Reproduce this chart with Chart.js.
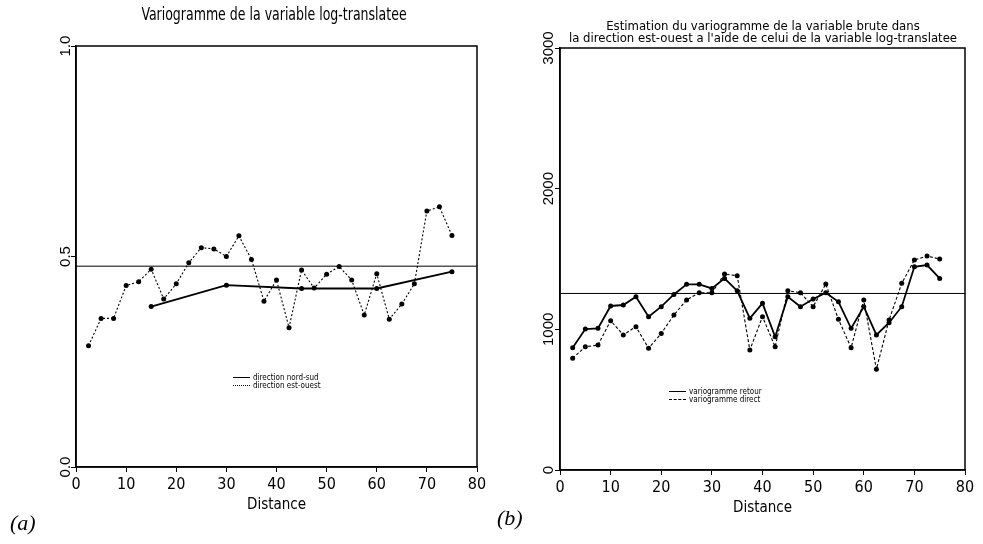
<!DOCTYPE html>
<html>
<head>
<meta charset="UTF-8">
<title>Variogrammes</title>
<script src="https://cdn.jsdelivr.net/npm/chart.js@4.4.0/dist/chart.umd.min.js"></script>
<style>
  body { margin: 0; width: 983px; height: 544px; background: #fff; position: relative; overflow: hidden;
         font-family: 'Liberation Sans Narrow', 'DejaVu Sans Condensed', 'DejaVu Sans', sans-serif;
         font-stretch: condensed; color: #000; }
  canvas { position: absolute; top: 0; }
  .txt { position: absolute; white-space: nowrap; transform: translateX(-50%); text-align: center; }
  .lettre { position: absolute; font-family: 'Liberation Serif', serif; font-style: italic; font-size: 22px; font-stretch: normal; }
  .leg { position: absolute; font-size: 8px; line-height: 8px; }
  .leg div { white-space: nowrap; }
  .trait { display: inline-block; width: 17px; vertical-align: middle; margin-right: 3px; }
</style>
</head>
<body>

<canvas id="chartA" width="520" height="544" style="left:0"></canvas>
<canvas id="chartB" width="463" height="544" style="left:520px"></canvas>

<div class="txt" style="left:274px; top:5px; font-size:17px; line-height:19px; transform:translateX(-50%) scaleX(0.82);">Variogramme de la variable log-translatee</div>
<div class="txt" style="left:763px; top:20px; font-size:13px; line-height:12px;">Estimation du variogramme de la variable brute dans<br>la direction est-ouest a l'aide de celui de la variable log-translatee</div>

<div class="leg" style="left:233px; top:374px;">
  <div><span class="trait" style="border-top:1.5px solid #000"></span>direction nord-sud</div>
  <div><span class="trait" style="border-top:1px dotted #000"></span>direction est-ouest</div>
</div>
<div class="leg" style="left:669px; top:388px;">
  <div><span class="trait" style="border-top:1.5px solid #000"></span>variogramme retour</div>
  <div><span class="trait" style="border-top:1px dashed #000"></span>variogramme direct</div>
</div>

<div class="lettre" style="left:10px; top:510px;">(a)</div>
<div class="lettre" style="left:497px; top:505px;">(b)</div>

<script>
// distances communes (pas de 2.5)
const distances = [2.5, 5, 7.5, 10, 12.5, 15, 17.5, 20, 22.5, 25, 27.5, 30, 32.5, 35, 37.5,
                   40, 42.5, 45, 47.5, 50, 52.5, 55, 57.5, 60, 62.5, 65, 67.5, 70, 72.5, 75];

// (a) variable log-translatee
const estOuest = [0.288, 0.353, 0.353, 0.431, 0.440, 0.470, 0.399, 0.435, 0.485, 0.521,
                  0.518, 0.500, 0.549, 0.493, 0.394, 0.444, 0.331, 0.468, 0.425, 0.458,
                  0.476, 0.444, 0.361, 0.459, 0.351, 0.387, 0.435, 0.608, 0.618, 0.550];
const nordSudDist = [15, 30, 45, 60, 75];
const nordSud = [0.381, 0.432, 0.424, 0.424, 0.464];
const palierA = [0.477, 0.477];

// (b) variable brute, direction est-ouest
const retour = [869, 1002, 1007, 1166, 1173, 1232, 1090, 1161, 1248, 1320,
                1320, 1291, 1362, 1274, 1078, 1185, 947, 1232, 1161, 1215,
                1260, 1196, 1007, 1161, 960, 1047, 1161, 1445, 1457, 1362];
const direct = [794, 876, 888, 1061, 960, 1019, 865, 971, 1102, 1208,
                1260, 1260, 1393, 1381, 853, 1090, 876, 1274, 1260, 1161,
                1322, 1071, 869, 1208, 716, 1066, 1327, 1493, 1521, 1500];
const palierB = [1255, 1255];
const palierDist = [0, 80];

// graduations
const xTicks = [0, 10, 20, 30, 40, 50, 60, 70, 80];
const yTicksA = [0, 0.5, 1];
const yTicksB = [0, 1000, 2000, 3000];

const narrow = "'Liberation Sans Narrow', 'DejaVu Sans Condensed', 'Liberation Sans', sans-serif";

function pts(xs, ys) {
    return xs.map(function (x, i) { return { x: x, y: ys[i] }; });
}

// cadre autour de la zone du graphe
const cadre = {
    id: 'cadre',
    afterDraw(chart) {
        const a = chart.chartArea, c = chart.ctx;
        c.save();
        c.strokeStyle = '#000';
        c.lineWidth = 1.5;
        c.strokeRect(a.left, a.top, a.right - a.left, a.bottom - a.top);
        c.restore();
    }
};

function echelles(yMax, yTicks, yFmt, yPad, yWidth) {
    return {
        x: {
            type: 'linear', min: 0, max: 80,
            afterBuildTicks: s => { s.ticks = xTicks.map(v => ({ value: v })); },
            afterFit: s => { s.height = 47; },
            grid: { drawOnChartArea: false, drawTicks: true, tickLength: 5, color: '#000', lineWidth: 1 },
            border: { display: true, color: '#000', width: 1.5 },
            ticks: { color: '#000', padding: 3, maxRotation: 0, autoSkip: false, font: { family: narrow, size: 16 } },
            title: { display: true, text: 'Distance', color: '#000', padding: 0, font: { family: narrow, size: 15 } }
        },
        y: {
            type: 'linear', min: 0, max: yMax,
            afterBuildTicks: s => { s.ticks = yTicks.map(v => ({ value: v })); },
            afterFit: s => { s.width = yWidth; },
            grid: { drawOnChartArea: false, drawTicks: true, tickLength: 5, color: '#000', lineWidth: 1 },
            border: { display: true, color: '#000', width: 1.5 },
            ticks: {
                color: '#000', minRotation: 90, maxRotation: 90, crossAlign: 'center', padding: yPad,
                callback: yFmt, font: { family: "'Liberation Sans', sans-serif", size: 15 }
            }
        }
    };
}

function serie(data, dash, width) {
    return {
        data: data, borderColor: '#000', borderWidth: width, borderDash: dash,
        pointRadius: 2.5, pointBackgroundColor: '#000', pointBorderWidth: 0, tension: 0
    };
}

function ligne(data) {
    return { data: data, borderColor: '#000', borderWidth: 1, pointRadius: 0 };
}

new Chart(document.getElementById('chartA').getContext('2d'), {
    type: 'line',
    data: {
        datasets: [
            serie(pts(nordSudDist, nordSud), [], 1.8),
            serie(pts(distances, estOuest), [2, 2], 1.1),
            ligne(pts(palierDist, palierA))
        ]
    },
    options: {
        responsive: false, animation: false,
        layout: { padding: { left: 0, right: 43, top: 46, bottom: 30 } },
        scales: echelles(1, yTicksA, v => v.toFixed(1), -5.5, 76),
        plugins: { legend: { display: false }, tooltip: { enabled: false } }
    },
    plugins: [cadre]
});

new Chart(document.getElementById('chartB').getContext('2d'), {
    type: 'line',
    data: {
        datasets: [
            serie(pts(distances, retour), [], 1.8),
            serie(pts(distances, direct), [3, 2], 1.1),
            ligne(pts(palierDist, palierB))
        ]
    },
    options: {
        responsive: false, animation: false,
        layout: { padding: { left: 0, right: 18, top: 48, bottom: 27 } },
        scales: echelles(3000, yTicksB, v => String(v), -10.7, 40),
        plugins: { legend: { display: false }, tooltip: { enabled: false } }
    },
    plugins: [cadre]
});
</script>
</body>
</html>
